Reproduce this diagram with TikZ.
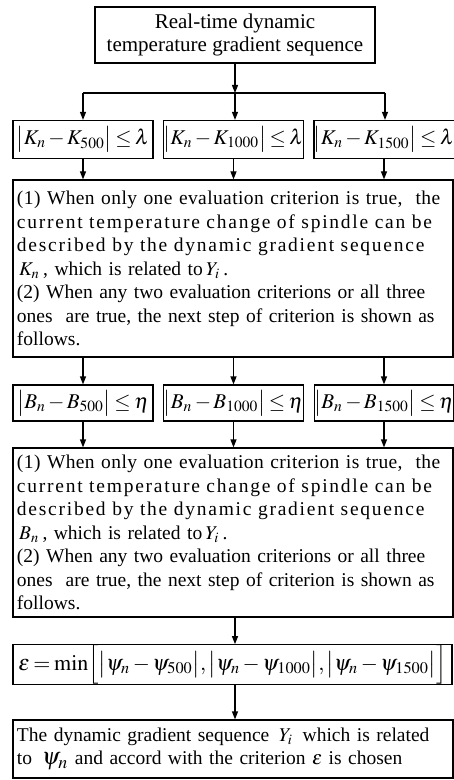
\documentclass[tikz,border=0pt]{standalone}
\usepackage{mathptmx}
\usepackage{fontspec}
\setmainfont{Liberation Serif}
\usetikzlibrary{arrows.meta}

\newcommand{\spreadline}[2][0]{\makebox[\hsize][s]{\addfontfeature{LetterSpace=#1}#2}}
\newcommand{\tightmath}{\thickmuskip=3mu\medmuskip=2mu}

\begin{document}
\begin{tikzpicture}[x=0.5pt,y=-0.5pt,
  box/.style={draw,line width=0.6pt,inner sep=0pt,font=\fontsize{10.5}{11.5}\selectfont},
  crit/.style={box,minimum height=19pt,font=\fontsize{10.5}{13}\selectfont\tightmath},
  note/.style={box,minimum width=220pt,text width=216pt,align=left,font=\fontsize{9.75}{11.75}\selectfont},
  arr/.style={line width=0.6pt,-{Triangle[length=4pt,width=3pt]}}]

\useasboundingbox (0,0) rectangle (454,780);

\node[box,minimum width=140pt,minimum height=28pt,align=center] (src) at (235,35) {Real-time dynamic\\temperature gradient sequence};
\coordinate (j) at (235,93);
\coordinate (jl) at (83,93);
\coordinate (jr) at (385,93);

\node[crit,minimum width=70pt] (k1) at (83,139.5) {$\bigl|K_n-K_{500}\bigr|\le\lambda$};
\node[crit,minimum width=69.5pt] (k2) at (233.5,139.5) {$\bigl|K_n-K_{1000}\bigr|\le\lambda$};
\node[crit,minimum width=69pt] (k3) at (384,139.5) {$\bigl|K_n-K_{1500}\bigr|\le\lambda$};

\node[note,minimum height=88.5pt] (c1) at (233,268.5) {%
\spreadline[2]{(1) When only one evaluation criterion is true,\ \ the}\\
\spreadline[9]{current temperature change of spindle can be}\\
\spreadline[9]{described by the dynamic gradient sequence}\\
$\,K_n$\,, which is related to\,$Y_i$\,.\\
(2) When any two evaluation criterions or all three\\
ones\ \ are true, the next step of criterion is shown as\\
follows.};

\node[crit,minimum width=70pt,minimum height=18pt] (b1) at (83,403) {$\bigl|B_n-B_{500}\bigr|\le\eta$};
\node[crit,minimum width=69.5pt,minimum height=18pt] (b2) at (233.5,403) {$\bigl|B_n-B_{1000}\bigr|\le\eta$};
\node[crit,minimum width=69pt,minimum height=18pt] (b3) at (384,403) {$\bigl|B_n-B_{1500}\bigr|\le\eta$};

\node[note,minimum height=84.5pt] (c2) at (233,532.5) {%
\spreadline[2]{(1) When only one evaluation criterion is true,\ \ the}\\
\spreadline[9]{current temperature change of spindle can be}\\
\spreadline[9]{described by the dynamic gradient sequence}\\
$\,B_n$\,, which is related to\,$Y_i$\,.\\
(2) When any two evaluation criterions or all three\\
ones\ \ are true, the next step of criterion is shown as\\
follows.};

\node[box,minimum width=219.5pt,minimum height=19.5pt,font=\fontsize{11}{14}\selectfont\tightmath] (eps) at (232.5,664.5)
  {$\varepsilon=\min\Bigl[\bigl|\psi_n-\psi_{500}\bigr|,\bigl|\psi_n-\psi_{1000}\bigr|,\bigl|\psi_n-\psi_{1500}\bigr|\Bigr]$};

\node[note,minimum height=29pt] (fin) at (233,749) {%
The dynamic gradient sequence \,$Y_i$\, which is related\\
to \,{\fontsize{12}{12}\selectfont$\psi_n$} and accord with the criterion $\varepsilon$ is chosen};

\draw[arr] (src) -- (j);
\draw[line width=0.6pt] (jl) -- (jr);
\draw[arr] (jl) -- (jl |- k1.north);
\draw[arr] (j) -- (j |- k2.north);
\draw[arr] (jr) -- (jr |- k3.north);
\foreach \n in {1,2,3} \draw[arr] (k\n.south) -- (k\n.south |- c1.north);
\foreach \n in {1,2,3} \draw[arr] (b\n.north |- c1.south) -- (b\n.north);
\foreach \n in {1,2,3} \draw[arr] (b\n.south) -- (b\n.south |- c2.north);
\draw[arr] (src.south |- c2.south) -- (src.south |- eps.north);
\draw[arr] (src.south |- eps.south) -- (src.south |- fin.north);

\end{tikzpicture}
\end{document}
